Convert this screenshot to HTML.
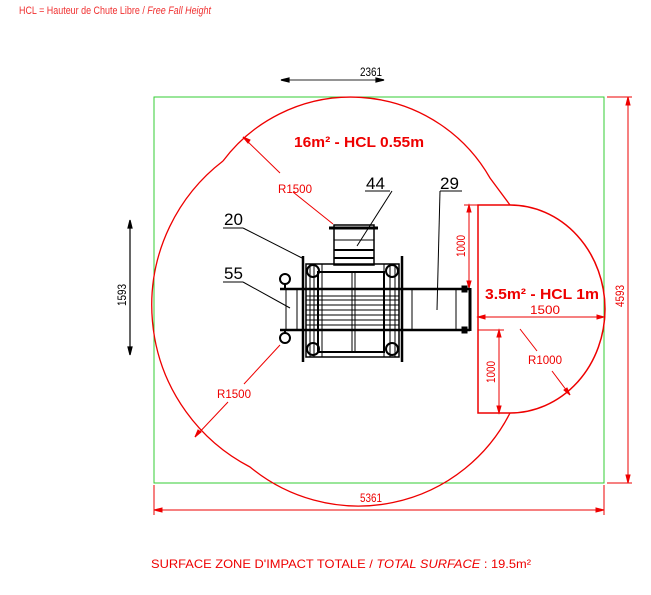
<!DOCTYPE html>
<html><head><style>body{margin:0;background:#fff}svg{display:block}</style></head><body>
<svg width="651" height="595" viewBox="0 0 651 595" xmlns="http://www.w3.org/2000/svg" font-family="Liberation Sans, sans-serif">
<text x="19" y="14" font-size="11" fill="#f03030" textLength="192" lengthAdjust="spacingAndGlyphs">HCL = Hauteur de Chute Libre / <tspan font-style="italic">Free Fall Height</tspan></text>
<rect x="154" y="97" width="450" height="386" fill="none" stroke="#3c3" stroke-width="1"/>
<path d="M223,161 A160,160 0 0 1 490,178 L510,205 M510,413 A170,170 0 0 1 250,467 A182,182 0 0 1 223,161" fill="none" stroke="#e00" stroke-width="1.3"/>
<path d="M478,205 H510 A95,104 0 0 1 510,413 H478 Z" fill="none" stroke="#e00" stroke-width="1.5"/>
<g stroke="#000" stroke-width="1.2" fill="#000" font-size="12">
<line x1="284" y1="80" x2="381" y2="80" stroke="#555"/><path d="M281,80 l8,-2 v4z M384,80 l-8,-2 v4z"/>
<text x="371" y="76" stroke="none" text-anchor="middle" textLength="22" lengthAdjust="spacingAndGlyphs">2361</text>
<line x1="130" y1="223" x2="130" y2="352"/><path d="M130,220 l-2,8 h4z M130,355 l-2,-8 h4z"/>
<text transform="translate(126,295) rotate(-90)" stroke="none" text-anchor="middle" textLength="22" lengthAdjust="spacingAndGlyphs">1593</text>
</g>
<g stroke="#e00" stroke-width="1" fill="#e00" font-size="12">
<line x1="628" y1="100" x2="628" y2="480"/><path d="M628,97 l-2,8 h4z M628,483 l-2,-8 h4z"/>
<line x1="607" y1="97" x2="632" y2="97"/><line x1="607" y1="483" x2="632" y2="483"/>
<text transform="translate(624,296) rotate(-90)" stroke="none" text-anchor="middle" textLength="22" lengthAdjust="spacingAndGlyphs">4593</text>
<line x1="157" y1="510" x2="601" y2="510"/><path d="M154,510 l8,-2 v4z M604,510 l-8,-2 v4z"/>
<line x1="154" y1="485" x2="154" y2="515"/><line x1="604" y1="485" x2="604" y2="515"/>
<text x="371" y="502" stroke="none" text-anchor="middle" textLength="22" lengthAdjust="spacingAndGlyphs">5361</text>
<line x1="469" y1="206" x2="469" y2="287"/><path d="M469,205 l-2,7 h4z M469,288 l-2,-7 h4z"/><line x1="464" y1="205" x2="478" y2="205"/>
<text transform="translate(465,246) rotate(-90)" stroke="none" text-anchor="middle" textLength="22" lengthAdjust="spacingAndGlyphs">1000</text>
<line x1="499" y1="331" x2="499" y2="412"/><path d="M499,330 l-2,7 h4z M499,413 l-2,-7 h4z"/><line x1="478" y1="330" x2="504" y2="330"/>
<text transform="translate(495,372) rotate(-90)" stroke="none" text-anchor="middle" textLength="22" lengthAdjust="spacingAndGlyphs">1000</text>
<line x1="479" y1="317" x2="603" y2="317"/><path d="M478,317 l7,-2 v4z M604,317 l-7,-2 v4z"/>
<text x="545" y="314" stroke="none" text-anchor="middle" textLength="30" lengthAdjust="spacingAndGlyphs">1500</text>
<line x1="520" y1="329" x2="537" y2="351"/><line x1="552" y1="371" x2="570" y2="395"/><path d="M570,395 l-6,-5 l3,-2z"/>
<text x="545" y="364" stroke="none" text-anchor="middle" textLength="34" lengthAdjust="spacingAndGlyphs">R1000</text>
<line x1="243" y1="137" x2="280" y2="173"/><line x1="293" y1="192" x2="333" y2="224"/><path d="M243,137 l7,3 l-2,3z"/>
<text x="295" y="193" stroke="none" text-anchor="middle" textLength="34" lengthAdjust="spacingAndGlyphs">R1500</text>
<line x1="280" y1="345" x2="244" y2="384"/><line x1="228" y1="402" x2="195" y2="437"/><path d="M195,437 l3,-7 l3,2z"/>
<text x="234" y="398" stroke="none" text-anchor="middle" textLength="34" lengthAdjust="spacingAndGlyphs">R1500</text>
</g>
<text x="359" y="147" font-size="15" font-weight="bold" fill="#e00" text-anchor="middle" textLength="130" lengthAdjust="spacingAndGlyphs">16m² - HCL 0.55m</text>
<text x="542" y="299" font-size="15" font-weight="bold" fill="#e00" text-anchor="middle" textLength="114" lengthAdjust="spacingAndGlyphs">3.5m² - HCL 1m</text>
<g stroke="#000" fill="none" stroke-width="1">
<rect x="334" y="225" width="40" height="40" stroke-width="1.5"/><line x1="329" y1="228" x2="378" y2="228" stroke-width="3"/>
<line x1="334" y1="240" x2="374" y2="240"/><line x1="334" y1="250" x2="374" y2="250" stroke-width="2"/><line x1="334" y1="258" x2="374" y2="258" stroke-width="2"/>
<line x1="303" y1="256" x2="303" y2="362" stroke-width="2.5"/><line x1="402" y1="256" x2="402" y2="362" stroke-width="2.5"/>
<rect x="306" y="264" width="93" height="93" stroke-width="1.5"/><rect x="318" y="272" width="66" height="80" stroke-width="2"/>
<line x1="280" y1="289" x2="470" y2="289" stroke-width="2.5"/><line x1="280" y1="330" x2="470" y2="330" stroke-width="2.5"/>
<line x1="306" y1="296" x2="399" y2="296"/><line x1="306" y1="300" x2="399" y2="300"/><line x1="306" y1="305" x2="399" y2="305"/><line x1="306" y1="310" x2="399" y2="310"/><line x1="306" y1="315" x2="399" y2="315"/><line x1="306" y1="320" x2="399" y2="320"/><line x1="306" y1="325" x2="399" y2="325"/>
<line x1="310" y1="264" x2="310" y2="357"/><line x1="314" y1="264" x2="314" y2="357"/><line x1="322" y1="264" x2="322" y2="357"/><line x1="352" y1="272" x2="352" y2="352"/><line x1="355" y1="272" x2="355" y2="352"/><line x1="384" y1="264" x2="384" y2="357"/><line x1="390" y1="264" x2="390" y2="357"/><line x1="395" y1="264" x2="395" y2="357"/>
<circle cx="313" cy="271" r="6" stroke-width="2"/><circle cx="392" cy="271" r="6" stroke-width="2"/><circle cx="313" cy="349" r="6" stroke-width="2"/><circle cx="392" cy="349" r="6" stroke-width="2"/>
<line x1="412" y1="289" x2="412" y2="330"/><line x1="456" y1="289" x2="456" y2="330"/>
<line x1="470" y1="288" x2="470" y2="331" stroke-width="3"/>
<rect x="462" y="286" width="5" height="6" fill="#000"/><rect x="462" y="327" width="5" height="6" fill="#000"/>
<line x1="286" y1="289" x2="286" y2="330"/><line x1="297" y1="289" x2="297" y2="330"/>
<circle cx="285" cy="279" r="5" stroke-width="2"/><circle cx="285" cy="338" r="5" stroke-width="2"/>
<line x1="285" y1="284" x2="285" y2="289" stroke-width="2"/><line x1="285" y1="330" x2="285" y2="333" stroke-width="2"/>
<line x1="223" y1="228" x2="243" y2="228"/><line x1="243" y1="228" x2="302" y2="258"/>
<line x1="223" y1="282" x2="243" y2="282"/><line x1="243" y1="282" x2="290" y2="308"/>
<line x1="365" y1="191" x2="390" y2="191"/><line x1="392" y1="191" x2="357" y2="246"/>
<line x1="440" y1="191" x2="462" y2="191"/><line x1="440" y1="191" x2="437" y2="310"/>
</g>
<g font-size="17" fill="#000">
<text x="224" y="225">20</text><text x="224" y="279">55</text><text x="366" y="189">44</text><text x="440" y="189">29</text>
</g>
<text x="341" y="568" font-size="12" fill="#e00" text-anchor="middle" textLength="380" lengthAdjust="spacingAndGlyphs">SURFACE ZONE D'IMPACT TOTALE / <tspan font-style="italic">TOTAL SURFACE</tspan> : 19.5m²</text>
</svg>
</body></html>
